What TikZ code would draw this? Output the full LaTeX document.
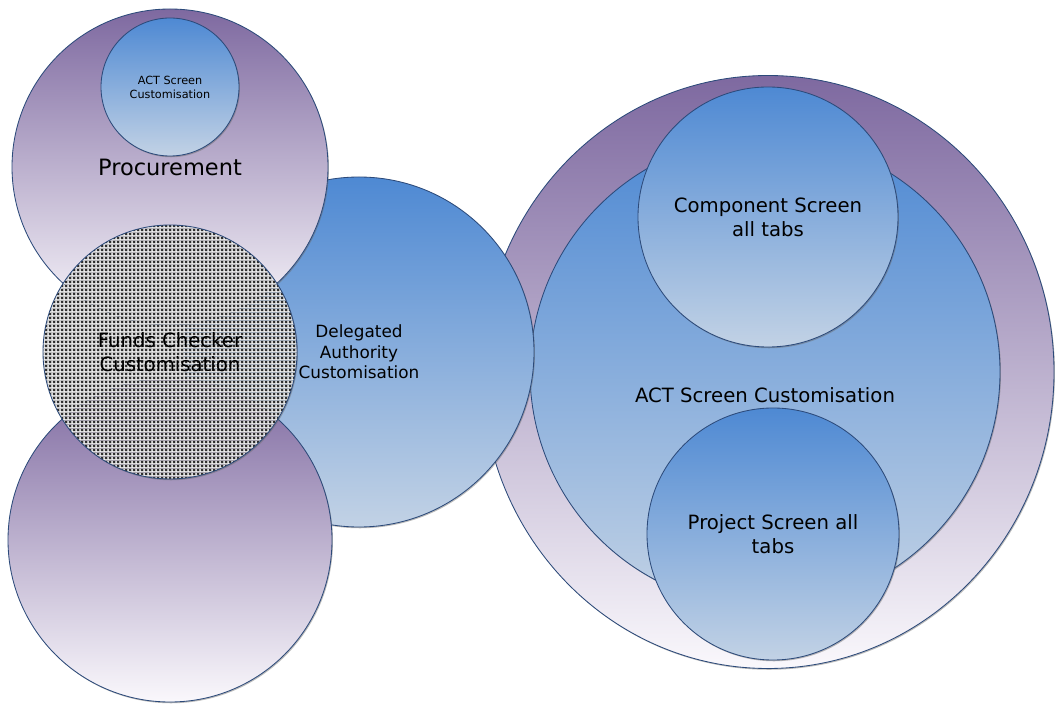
\documentclass[tikz,border=0pt]{standalone}
\usepackage{fontspec}
\setmainfont{DejaVu Sans}
\usetikzlibrary{shadows,patterns,shapes.geometric}

\definecolor{lilac}{RGB}{126,105,160}
\definecolor{lilacpale}{RGB}{250,248,252}
\definecolor{sky}{RGB}{78,137,211}
\definecolor{skypale}{RGB}{194,210,229}
\definecolor{rim}{RGB}{44,74,122}

% fine grey mesh with little crosses
\pgfdeclarepatterninherentlycolored{meshx}
{\pgfpointorigin}{\pgfpoint{2.9pt}{2.9pt}}{\pgfpoint{2.9pt}{2.9pt}}
{
  \pgfsetfillcolor{white}
  \pgfpathrectangle{\pgfpointorigin}{\pgfpoint{2.9pt}{2.9pt}}
  \pgfusepath{fill}
  \pgfsetfillcolor{black!45}
  \pgfpathrectangle{\pgfpoint{0.65pt}{0.65pt}}{\pgfpoint{2.25pt}{2.25pt}}
  \pgfusepath{fill}
  \pgfsetstrokecolor{black!90}
  \pgfsetlinewidth{0.4pt}
  \pgfpathmoveto{\pgfpoint{1.1pt}{1.1pt}}\pgfpathlineto{\pgfpoint{2.45pt}{2.45pt}}
  \pgfpathmoveto{\pgfpoint{1.1pt}{2.45pt}}\pgfpathlineto{\pgfpoint{2.45pt}{1.1pt}}
  \pgfusepath{stroke}
}

\begin{document}
\begin{tikzpicture}[
    ball/.style={circle, draw=rim, line width=0.6pt, inner sep=0pt, align=center,
        drop shadow={shadow xshift=0.7pt, shadow yshift=-0.9pt, opacity=0.45, fill=black!60}},
    purpleball/.style={ball, top color=lilac, bottom color=lilacpale},
    blueball/.style={ball, top color=sky, bottom color=skypale},
    big/.style={font=\fontsize{14}{17}\selectfont}
]
    \fill[white] (0,0) rectangle (26.4,17.6);
    \useasboundingbox (0,0) rectangle (26.4,17.6);

    % right hand group
    \node[purpleball, ellipse, minimum width=14.3cm, minimum height=14.825cm] (outer) at (19.2,8.3) {};
    \node[blueball, minimum size=11.75cm] (actbig) at (19.125,8.3) {};
    \node[big] (actbiglabel) at (19.125,7.725) {ACT Screen Customisation};
    \node[blueball, big, minimum size=6.5cm] (component) at (19.2,12.175) {Component Screen\\all tabs};
    \node[blueball, big, minimum size=6.3cm] (project) at (19.325,4.25) {Project Screen all\\tabs};

    % middle
    \node[blueball, minimum size=8.75cm, font=\fontsize{12}{14.5}\selectfont] (delegated) at (8.975,8.8)
        {Delegated\\Authority\\Customisation};

    % left hand group
    \node[purpleball, minimum size=7.9cm, font=\fontsize{16}{19}\selectfont] (procurement) at (4.25,13.425) {Procurement};
    \node[blueball, minimum size=3.45cm, font=\fontsize{8}{10}\selectfont] (actsmall) at (4.25,15.425)
        {ACT Screen\\Customisation};
    \node[purpleball, minimum size=8.1cm] (lower) at (4.25,4.1) {};
    \node[ball, pattern=meshx, big, minimum size=6.35cm] (funds) at (4.25,8.8)
        {Funds Checker\\Customisation};
\end{tikzpicture}
\end{document}
